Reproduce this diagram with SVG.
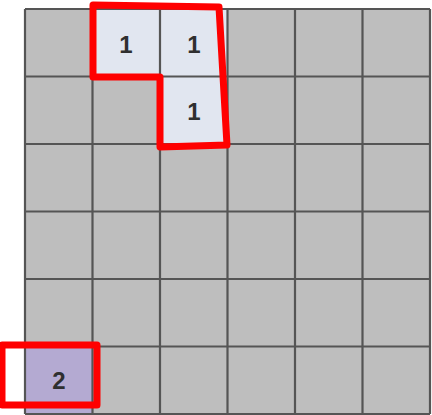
<svg xmlns="http://www.w3.org/2000/svg" width="432" height="415" viewBox="0 0 432 415">
<style>
.cell{fill:#bebebe;}
.grid{stroke:#555;stroke-width:2.2;fill:none;}
.lbl{font-family:"Liberation Sans",Arial,sans-serif;font-weight:bold;font-size:24px;fill:#2f2f2f;text-anchor:middle;}
.hl{fill:none;stroke:#ff0000;stroke-width:7;stroke-linejoin:round;}
</style>
<rect width="432" height="415" fill="#ffffff"/>
<g id="board">
<rect class="cell" x="25" y="9" width="405" height="405"/>
</g>
<g id="cell-0-1"><rect x="92.5" y="9" width="67.5" height="67.5" fill="#e1e6f0"/><text class="lbl" x="126" y="53">1</text></g>
<g id="cell-0-2"><rect x="160" y="9" width="67.5" height="67.5" fill="#e1e6f0"/><text class="lbl" x="194" y="53">1</text></g>
<g id="cell-1-2"><rect x="160" y="76.5" width="67.5" height="67.5" fill="#e1e6f0"/><text class="lbl" x="194" y="120">1</text></g>
<g id="cell-5-0"><rect x="25" y="346.5" width="67.5" height="67.5" fill="#b4aad2"/><text class="lbl" x="59" y="389">2</text></g>
<g id="gridlines">
<path class="grid" d="M25 9V414M92.5 9V414M160 9V414M227.5 9V414M295 9V414M362.5 9V414M430 9V414M25 9H430M25 76.5H430M25 144H430M25 211.5H430M25 279H430M25 346.5H430M25 414H430"/>
</g>
<g id="connectors">
<path id="hl-L" class="hl" d="M93 5L219 7L227 145L160 147L160 77L93 77Z"/>
<path id="hl-2" class="hl" d="M2 345L97 345L97 405L2 405Z"/>
</g>
</svg>
